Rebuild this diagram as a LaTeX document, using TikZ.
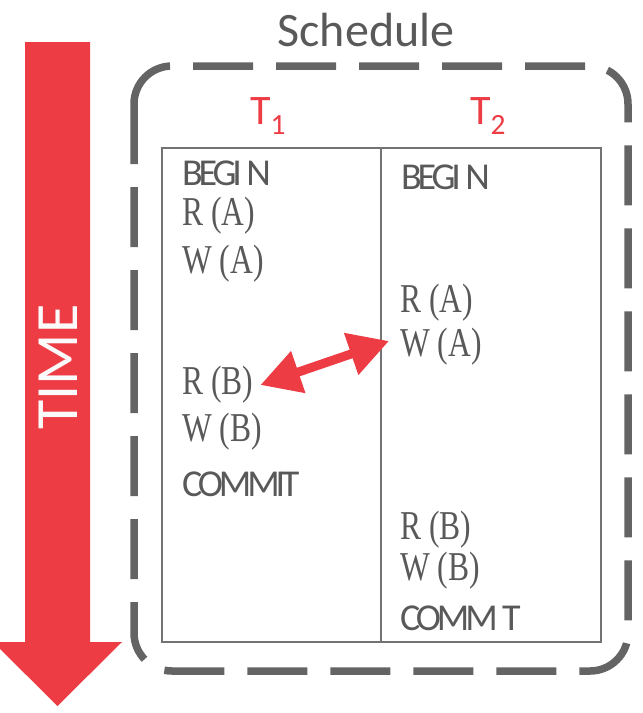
\documentclass[tikz,border=0pt]{standalone}
\usepackage{fontspec}
\usepackage{graphicx}
\usetikzlibrary{arrows.meta}

\setmainfont{Carlito}
\newfontfamily\opfont{Liberation Serif}
\newfontfamily\tightfont[LetterSpace=-11]{Carlito}

\definecolor{timered}{RGB}{238,60,68}
\definecolor{boxgray}{RGB}{100,100,100}
\definecolor{linegray}{RGB}{115,115,115}
\definecolor{txtgray}{RGB}{89,89,89}

\newcommand{\opname}[1]{\scalebox{0.77}[1]{#1}}

\begin{document}
\begin{tikzpicture}[
			x=1pt,
			y=-1pt,
			kw/.style={anchor=west, inner sep=0pt, text=txtgray, font=\fontsize{38}{38}\tightfont},
			op/.style={anchor=west, inner sep=0pt, text=txtgray, font=\fontsize{41}{41}\opfont},
			txname/.style={text=timered, font=\fontsize{42}{42}\selectfont},
			dblarrow/.style={timered, line width=9pt, {Triangle[length=40pt, width=42pt]}-{Triangle[length=40pt, width=42pt]}}
		]
		\useasboundingbox (0,0) rectangle (643,713);

		% ---- seta do tempo ---------------------------------------------
		\fill[timered] (25,42) -- (90,42) -- (90,642) -- (122,642) -- (57.5,706) -- (-7,642) -- (25,642) -- cycle;
		\node[rotate=90, text=white!96!gray, font=\fontsize{60}{60}\selectfont] (timelabel) at (58,367) {TIME};

		% ---- escalonamento ---------------------------------------------
		\node[text=txtgray, font=\fontsize{48}{48}\selectfont] (schedule) at (366,30) {Schedule};
		\draw[boxgray, line width=7.5pt, dash pattern=on 60pt off 23pt, rounded corners=38pt] (134,66) rectangle (628,671);

		% ---- tabela das transacoes -------------------------------------
		\draw[linegray, line width=1.8pt] (162,148) rectangle (601,642);
		\draw[linegray, line width=1.8pt] (381,148) -- (381,642);
		\node[txname] (t1) at (268,116) {T\textsubscript{1}};
		\node[txname] (t2) at (488,116) {T\textsubscript{2}};

		% ---- operacoes de T1 -------------------------------------------
		\node[kw] (begin1) at (182,173) {BEGI N};
		\node[op] (ra1) at (182,216) {\opname{R (A)}};
		\node[op] (wa1) at (182,264) {\opname{W (A)}};
		\node[op] (rb1) at (182,385) {\opname{R (B)}};
		\node[op] (wb1) at (182,432) {\opname{W (B)}};
		\node[kw] (commit1) at (182,484) {COMMIT};

		% ---- operacoes de T2 -------------------------------------------
		\node[kw] (begin2) at (401,177) {BEGI N};
		\node[op] (ra2) at (400,303) {\opname{R (A)}};
		\node[op] (wa2) at (400,347) {\opname{W (A)}};
		\node[op] (rb2) at (400,530) {\opname{R (B)}};
		\node[op] (wb2) at (400,571) {\opname{W (B)}};
		\node[kw] (commit2) at (400,618) {COMM T};

		% ---- conflito --------------------------------------------------
		\draw[dblarrow] ([xshift=7pt]rb1.east) -- ([xshift=-11pt, yshift=6pt]wa2.west);
	\end{tikzpicture}
\end{document}
